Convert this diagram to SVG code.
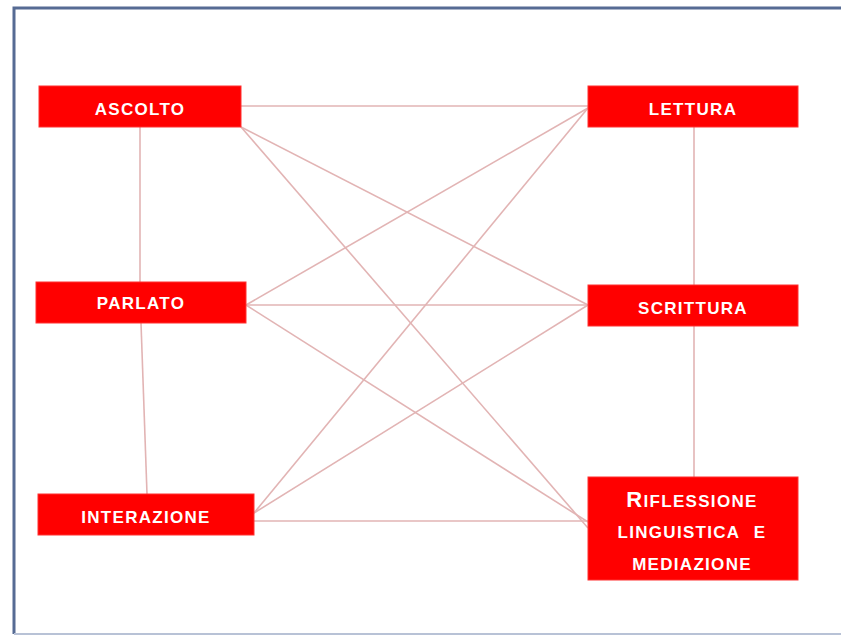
<svg xmlns="http://www.w3.org/2000/svg" width="841" height="639" viewBox="0 0 841 639">
<style>
.box{fill:#ff0000;stroke:#ff3030;stroke-width:1}
.lbl{fill:#ffffff;font-family:"Liberation Sans",Arial,sans-serif;font-weight:bold;font-size:17px;letter-spacing:1.3px;text-anchor:middle}
.con line{stroke:#e2b4b4;stroke-width:1.6}
</style>
<rect width="841" height="639" fill="#ffffff"/>
<path d="M14 634 L14 8 L841 8" fill="none" stroke="#566b94" stroke-width="3"/>
<line x1="14" y1="634" x2="841" y2="634" stroke="#b8c2d6" stroke-width="2"/>
<g id="connectors" class="con">
<line x1="140" y1="127" x2="140" y2="282"/>
<line x1="141" y1="323" x2="147" y2="494"/>
<line x1="694" y1="127" x2="694" y2="285"/>
<line x1="694" y1="326" x2="694" y2="477"/>
<line x1="241" y1="106" x2="588" y2="106"/>
<line x1="241" y1="127" x2="588" y2="305"/>
<line x1="241" y1="127" x2="588" y2="528"/>
<line x1="246" y1="305" x2="588" y2="108"/>
<line x1="246" y1="305" x2="588" y2="305"/>
<line x1="246" y1="305" x2="588" y2="522"/>
<line x1="254" y1="513" x2="588" y2="108"/>
<line x1="254" y1="513" x2="588" y2="305"/>
<line x1="242" y1="521" x2="588" y2="521"/>
</g>
<g id="ascolto"><rect class="box" x="39" y="86" width="202" height="41"/><text class="lbl" x="140" y="115">ASCOLTO</text></g>
<g id="parlato"><rect class="box" x="36" y="282" width="210" height="41"/><text class="lbl" x="141" y="309">PARLATO</text></g>
<g id="interazione"><rect class="box" x="38" y="494" width="216" height="41"/><text class="lbl" x="146" y="523">INTERAZIONE</text></g>
<g id="lettura"><rect class="box" x="588" y="86" width="210" height="41"/><text class="lbl" x="693" y="115">LETTURA</text></g>
<g id="scrittura"><rect class="box" x="588" y="285" width="210" height="41"/><text class="lbl" x="693" y="314">SCRITTURA</text></g>
<g id="riflessione"><rect class="box" x="588" y="477" width="210" height="103"/>
<text class="lbl" x="692" y="507"><tspan font-size="22px">R</tspan>IFLESSIONE</text>
<text class="lbl" x="692" y="538" word-spacing="8">LINGUISTICA E</text>
<text class="lbl" x="692" y="570">MEDIAZIONE</text></g>
</svg>
